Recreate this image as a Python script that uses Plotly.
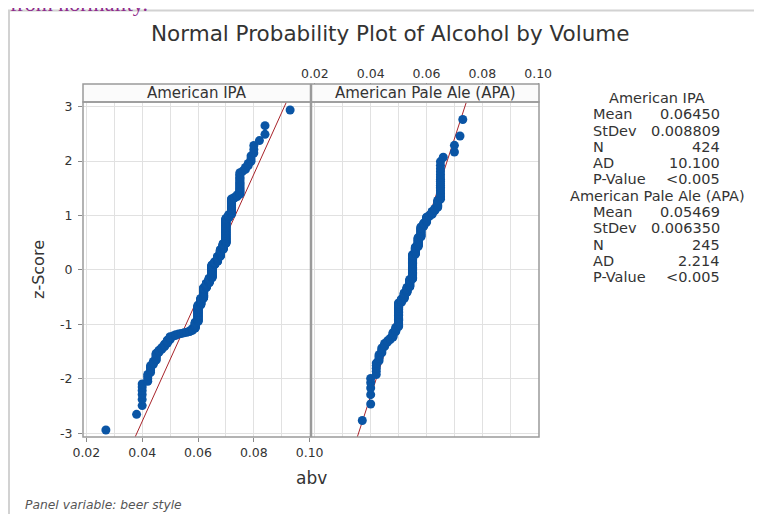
import plotly.graph_objects as go
from statistics import NormalDist

W, H = 762, 514
OFF = 8  # page margin around the figure in the browser

# ---------------- data ----------------
style_names = ["American IPA", "American Pale Ale (APA)"]

ipa_abv = [0.027, 0.038, 0.040, 0.042, 0.043, 0.044, 0.045, 0.046, 0.047, 0.048,
           0.049, 0.050, 0.051, 0.052, 0.053, 0.054, 0.055, 0.056, 0.057, 0.058,
           0.059, 0.060, 0.061, 0.062, 0.063, 0.064, 0.065, 0.066, 0.067, 0.068,
           0.069, 0.070, 0.071, 0.072, 0.073, 0.074, 0.075, 0.076, 0.077, 0.078,
           0.079, 0.080, 0.082, 0.084, 0.093]
ipa_count = [1, 1, 6, 4, 5, 3, 7, 3, 3, 4,
             5, 5, 1, 2, 1, 1, 1, 1, 2, 4,
             12, 38, 18, 30, 14, 15, 41, 10, 16, 20,
             17, 61, 7, 25, 2, 3, 20, 1, 2, 2,
             3, 3, 1, 2, 1]

apa_abv = [0.037, 0.040, 0.042, 0.043, 0.044, 0.045, 0.046, 0.047, 0.048, 0.049,
           0.050, 0.051, 0.052, 0.053, 0.054, 0.055, 0.056, 0.057, 0.058, 0.059,
           0.060, 0.061, 0.062, 0.063, 0.064, 0.065, 0.066, 0.070, 0.072, 0.073]
apa_count = [1, 5, 5, 4, 4, 3, 2, 2, 5, 5,
             31, 6, 10, 9, 14, 44, 13, 15, 15, 5,
             7, 2, 4, 3, 7, 19, 1, 2, 1, 1]

stat_labels = ["Mean", "StDev", "N", "AD", "P-Value"]
ipa_stats = ["0.06450", "0.008809", "424", "10.100", "<0.005"]
apa_stats = ["0.05469", "0.006350", "245", "2.214", "<0.005"]
fit_mean = [0.06450, 0.05469]
fit_sd = [0.008809, 0.006350]

x_tick_vals = [0.02, 0.04, 0.06, 0.08, 0.10]
x_tick_text = ["0.02", "0.04", "0.06", "0.08", "0.10"]
y_tick_vals = [-3, -2, -1, 0, 1, 2, 3]
y_tick_text = ["-3", "-2", "-1", "0", "1", "2", "3"]

# ---------------- helpers (page pixels -> paper fractions) ----------------
def PX(x):
    return (x - OFF) / W

def PY(y):
    return 1 - (y - OFF) / H

nd = NormalDist()

def prob_points(values, counts):
    xs = []
    for v, c in zip(values, counts):
        xs.extend([v] * c)
    n = len(xs)
    zs = [nd.inv_cdf((i - 0.3) / (n + 0.4)) for i in range(1, n + 1)]
    return xs, zs

X_RANGE = [0.0188, 0.1003]
Y_RANGE = [-3.068, 3.086]

BLUE = "#0a55a5"
RED = "#a8232a"
TXT = "#333333"
GRID = "#e1e1e1"
FRAME = "#9a9a9a"
FONT = "DejaVu Sans"

fig = go.Figure()

datasets = [(ipa_abv, ipa_count), (apa_abv, apa_count)]
for k, (vals, cnts) in enumerate(datasets):
    xa = "x" if k == 0 else "x2"
    ya = "y" if k == 0 else "y2"
    xs, zs = prob_points(vals, cnts)
    lz = [Y_RANGE[0], Y_RANGE[1]]
    lx = [fit_mean[k] + z * fit_sd[k] for z in lz]
    fig.add_trace(go.Scatter(x=lx, y=lz, mode="lines", xaxis=xa, yaxis=ya,
                             line=dict(color=RED, width=1), hoverinfo="skip",
                             showlegend=False, cliponaxis=True))
    fig.add_trace(go.Scatter(x=xs, y=zs, mode="markers", xaxis=xa, yaxis=ya,
                             marker=dict(color=BLUE, size=9, line=dict(width=0)),
                             showlegend=False, cliponaxis=True))

left_dom = [PX(83), PX(310.5)]
right_dom = [PX(311.5), PX(539)]
y_dom = [PY(437), PY(102)]

common_x = dict(range=X_RANGE, tickmode="array", tickvals=x_tick_vals,
                ticktext=x_tick_text, automargin=False,
                showgrid=True, gridcolor=GRID, gridwidth=1, zeroline=False,
                showline=False, ticks="outside", ticklen=4, tickcolor="#8a8a8a",
                tickfont=dict(family=FONT, size=12.5, color=TXT),
                minor=dict(tickmode="linear", tick0=0.01, dtick=0.01, showgrid=True,
                           gridcolor=GRID, gridwidth=1, ticks=""))
common_y = dict(range=Y_RANGE, tickmode="array", tickvals=y_tick_vals,
                ticktext=y_tick_text, automargin=False,
                showgrid=True, gridcolor=GRID, gridwidth=1, zeroline=False,
                showline=False, domain=y_dom)

fig.update_layout(
    width=W, height=H, autosize=False,
    margin=dict(l=0, r=0, t=0, b=0, pad=0, autoexpand=False),
    paper_bgcolor="white", plot_bgcolor="white",
    showlegend=False,
    xaxis=dict(domain=left_dom, anchor="y", side="bottom", **common_x),
    xaxis2=dict(domain=right_dom, anchor="free", position=PY(86.5), side="top",
                **common_x),
    yaxis=dict(anchor="x", ticks="outside", ticklen=4, tickcolor="#8a8a8a",
               ticklabelstandoff=3,
               tickfont=dict(family=FONT, size=12.5, color=TXT), **common_y),
    yaxis2=dict(anchor="x2", showticklabels=False, ticks="", **common_y),
)

shapes = []
shapes.append(dict(type="rect", xref="paper", yref="paper",
                   x0=PX(9), x1=PX(757), y0=PY(530), y1=PY(10.5),
                   line=dict(color="#d2d2d2", width=2), fillcolor="rgba(0,0,0,0)",
                   layer="below"))
for (xl, xr) in [(83, 310.5), (311.5, 539)]:
    shapes.append(dict(type="rect", xref="paper", yref="paper",
                       x0=PX(xl), x1=PX(xr), y0=PY(102), y1=PY(84),
                       line=dict(color=FRAME, width=1.5), fillcolor="#fbfbfb",
                       layer="above"))
    shapes.append(dict(type="rect", xref="paper", yref="paper",
                       x0=PX(xl), x1=PX(xr), y0=PY(437), y1=PY(102),
                       line=dict(color=FRAME, width=1.5), fillcolor="rgba(0,0,0,0)",
                       layer="above"))
fig.update_layout(shapes=shapes)

ann = []
def add_text(x, y, text, size, xanchor="center", yanchor="middle", color=TXT,
             family=FONT, angle=0, style="normal"):
    ann.append(dict(x=PX(x), y=PY(y), xref="paper", yref="paper", text=text,
                    showarrow=False, xanchor=xanchor, yanchor=yanchor,
                    textangle=angle,
                    font=dict(family=family, size=size, color=color, style=style)))

# surrounding page text, cut off by the top edge (only its lower part shows)
add_text(8, 3, "from normality.", 22, xanchor="left", color="#8e2a8c",
         family="Liberation Serif")

add_text(390, 33, "Normal Probability Plot of Alcohol by Volume", 21.5)
add_text(196.5, 93, style_names[0], 15)
add_text(425, 93, style_names[1], 15)
add_text(38, 270, "z-Score", 16, angle=-90)
add_text(311, 478, "abv", 17)
add_text(23, 505, "Panel variable: beer style", 12.3, xanchor="left",
         color="#555555", style="italic")

for b, (name, vals) in enumerate([(style_names[0], ipa_stats),
                                  (style_names[1], apa_stats)]):
    base = 6 * b
    add_text(657, 98 + 16.3 * base, name, 14.5)
    for r, (lab, val) in enumerate(zip(stat_labels, vals)):
        yy = 98 + 16.3 * (base + r + 1)
        add_text(591, yy, lab, 14.5, xanchor="left")
        add_text(722, yy, val, 14.5, xanchor="right")

fig.update_layout(annotations=ann)

fig.write_html("out.html")
